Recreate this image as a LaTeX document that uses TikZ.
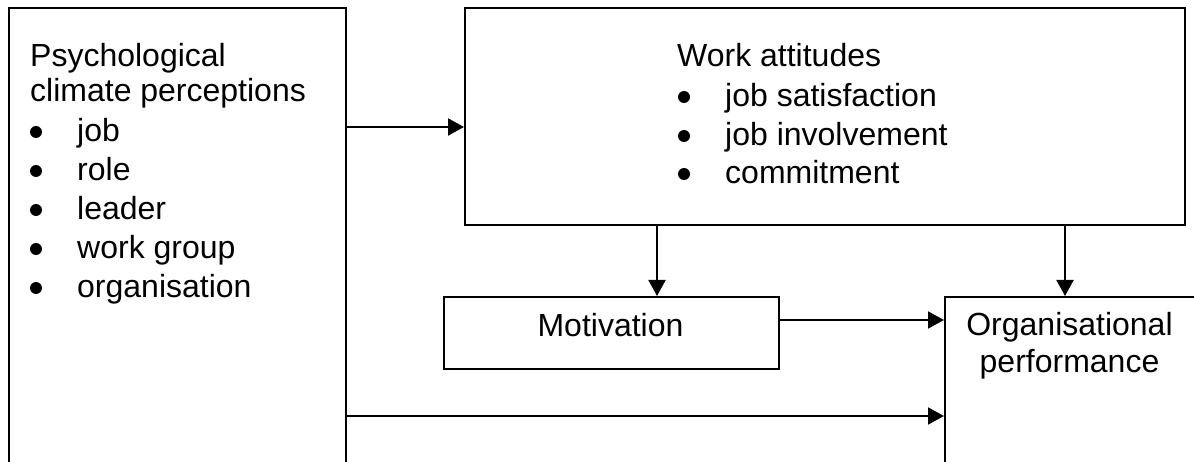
\documentclass[tikz,border=0pt]{standalone}
\usepackage{fontspec}
\setmainfont{Liberation Sans}
\usetikzlibrary{arrows.meta}
\begin{document}
\begin{tikzpicture}[x=1pt,y=-1pt,
  font=\fontsize{32}{36}\selectfont,
  box/.style={draw, line width=2pt, inner sep=0pt, anchor=north west},
  txt/.style={anchor=base west, inner sep=0pt},
  ctxt/.style={anchor=base, inner sep=0pt},
  dot/.style={circle, fill, inner sep=0pt, minimum size=12pt},
  arr/.style={line width=2pt, -{Triangle[length=16pt,width=17pt]}}]
\useasboundingbox (0,0) rectangle (1194,462);
\clip (0,0) rectangle (1194,462);
\fill[white] (0,0) rectangle (1194,462);

% boxes
\node[box, minimum width=337pt, minimum height=480pt] (clim) at (8,7) {};
\node[box, minimum width=720pt, minimum height=217pt] (att) at (464,7) {};
\node[box, minimum width=335pt, minimum height=72pt] (mot) at (443,296) {};
\node[box, minimum width=280pt, minimum height=200pt] (perf) at (944,296) {};

% climate perceptions
\node[txt] (c1) at (30,67) {Psychological};
\node[txt] (c2) at (30,102) {climate perceptions};
\node[txt] (c3) at (77,142) {job};
\node[txt] (c4) at (77,181) {role};
\node[txt] (c5) at (77,220) {leader};
\node[txt] (c6) at (77,259) {work group};
\node[txt] (c7) at (77,298) {organisation};
\node[dot] (b3) at (36,132) {};
\node[dot] (b4) at (36,171) {};
\node[dot] (b5) at (36,210) {};
\node[dot] (b6) at (36,249) {};
\node[dot] (b7) at (36,288) {};

% work attitudes
\node[txt] (a1) at (677,67) {Work attitudes};
\node[txt] (a2) at (725,107) {job satisfaction};
\node[txt] (a3) at (725,146) {job involvement};
\node[txt] (a4) at (725,184) {commitment};
\node[dot] (d2) at (684,97) {};
\node[dot] (d3) at (684,136) {};
\node[dot] (d4) at (684,174) {};

% motivation and performance
\node[ctxt] (m1) at (610.5,337) {Motivation};
\node[ctxt] (p1) at (1069.5,335) {Organisational};
\node[ctxt] (p2) at (1069.5,372) {performance};

% connectors
\draw[arr] ([yshift=-120pt]clim.north east) -- ([yshift=-120pt]clim.north east -| att.west);
\draw[arr] ([xshift=193pt]att.south west) -- ([xshift=193pt]att.south west |- mot.north);
\draw[arr] ([xshift=601pt]att.south west) -- ([xshift=601pt]att.south west |- perf.north);
\draw[arr] ([yshift=-24pt]mot.north east) -- ([yshift=-24pt]mot.north east -| perf.west);
\draw[arr] ([yshift=-409pt]clim.north east) -- ([yshift=-409pt]clim.north east -| perf.west);
\end{tikzpicture}
\end{document}
